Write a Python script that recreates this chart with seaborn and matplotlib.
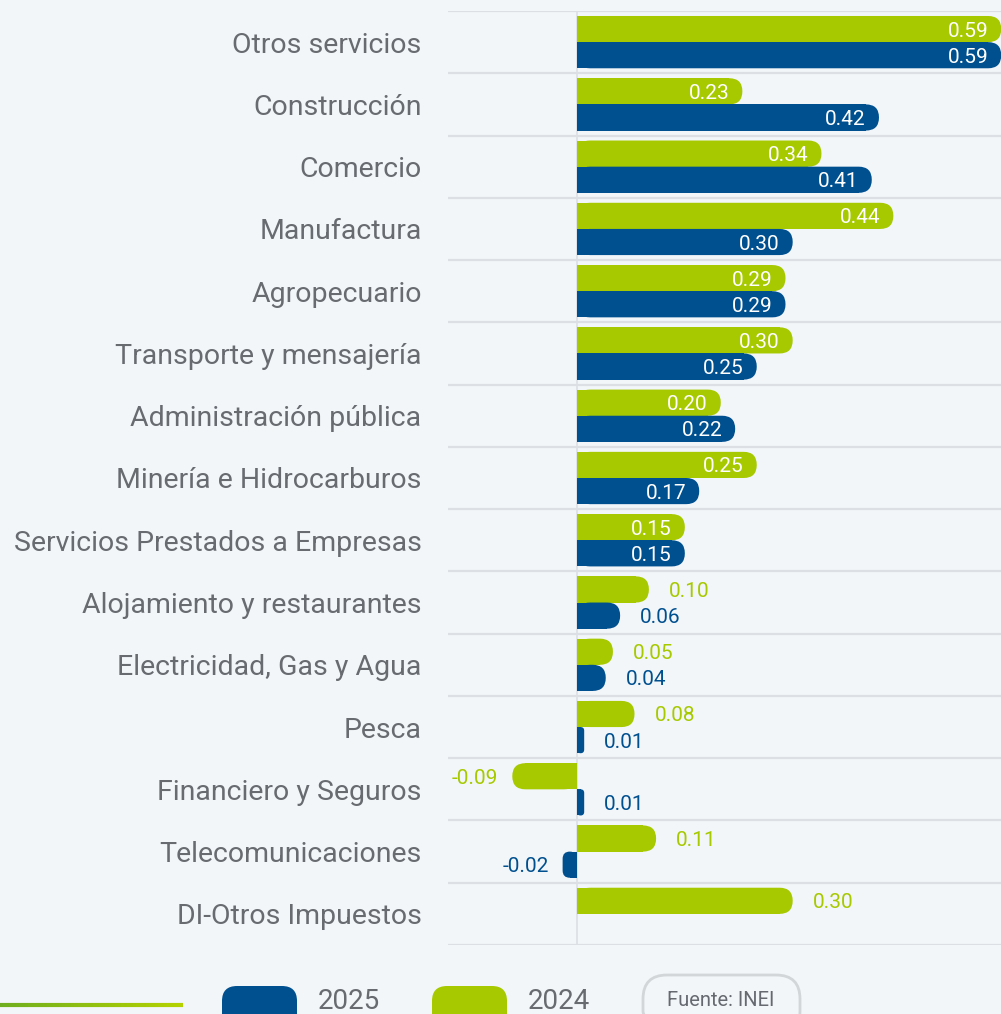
import numpy as np
import pandas as pd
import matplotlib
matplotlib.use("Agg")
import matplotlib.pyplot as plt
import seaborn as sns
from matplotlib.patches import FancyBboxPatch, Rectangle
from matplotlib.collections import LineCollection

# ---------------- data ----------------
categories = [
    "Otros servicios", "Construcción", "Comercio", "Manufactura", "Agropecuario",
    "Transporte y mensajería", "Administración pública", "Minería e Hidrocarburos",
    "Servicios Prestados a Empresas", "Alojamiento y restaurantes",
    "Electricidad, Gas y Agua", "Pesca", "Financiero y Seguros",
    "Telecomunicaciones", "DI-Otros Impuestos",
]
values_2024 = [0.59, 0.23, 0.34, 0.44, 0.29, 0.30, 0.20, 0.25, 0.15, 0.10, 0.05, 0.08, -0.09, 0.11, 0.30]
values_2025 = [0.59, 0.42, 0.41, 0.30, 0.29, 0.25, 0.22, 0.17, 0.15, 0.06, 0.04, 0.01, 0.01, -0.02, np.nan]
years = ["2024", "2025"]
legend_years = ["2025", "2024"]
outside_label_categories = categories[9:]
source_text = "Fuente: INEI"

# ---------------- style ----------------
BG = "#f3f6f9"
GREEN = "#a6c900"
BLUE = "#00508f"
GRID = "#dcdfe3"
TXT = "#686c71"
colors = {"2024": GREEN, "2025": BLUE}

sns.set_theme(style="white")
plt.rcParams['font.family'] = ['Roboto', 'DejaVu Sans']

W, H = 1001, 1014
fig = plt.figure(figsize=(W / 100, H / 100), dpi=100, facecolor=BG)
ax_left, ax_right, ax_top, ax_bot = 448, 1001, 11, 945
ax = fig.add_axes([ax_left / W, 1 - ax_bot / H, (ax_right - ax_left) / W, (ax_bot - ax_top) / H])
ax.set_facecolor(BG)

df = pd.DataFrame({
    "Sector": categories * 2,
    "Año": ["2024"] * len(categories) + ["2025"] * len(categories),
    "Valor": values_2024 + values_2025,
}).dropna()

sns.barplot(data=df, y="Sector", x="Valor", hue="Año", hue_order=years, order=categories,
            palette=colors, width=0.84, gap=0, orient="h", ax=ax, legend=False,
            saturation=1, errorbar=None)

zero_px = 577
px_per_x = 719.0
ax.set_xlim((ax_left - zero_px) / px_per_x, (ax_right - zero_px) / px_per_x)
n = len(categories)
ax.set_ylim(n - 0.5, -0.5)
px_per_y = (ax_bot - ax_top) / n
aspect = px_per_x / px_per_y

for k in range(n + 1):
    ax.axhline(k - 0.5, color=GRID, lw=1.6, zorder=0)
ax.axvline(0, color=GRID, lw=1.2, zorder=0.5)

# rounded bars
for ci, container in enumerate(ax.containers):
    year = years[ci]
    col = colors[year]
    for bar in container:
        x0, w, y0, h = bar.get_x(), bar.get_width(), bar.get_y(), bar.get_height()
        if not np.isfinite(w) or w == 0:
            continue
        bar.set_visible(False)
        left, right = min(x0, x0 + w), max(x0, x0 + w)
        width = right - left
        R = (h * px_per_y / 2) / px_per_x
        r = min(R, width / 2)
        ax.add_patch(FancyBboxPatch((left, y0), width, h,
                                    boxstyle=f"round,pad=0,rounding_size={r}",
                                    mutation_aspect=aspect, fc=col, ec="none", zorder=2))
        if w > 0:
            ax.add_patch(Rectangle((0, y0), max(width - r, 0), h, fc=col, ec="none", zorder=2))
        else:
            ax.add_patch(Rectangle((left + r, y0), max(width - r, 0), h, fc=col, ec="none", zorder=2))
        val = x0 + w
        cy = y0 + h / 2
        cat = categories[int(round(cy))]
        label = f"{val:.2f}"
        if cat in outside_label_categories:
            if val >= 0:
                ax.text(val + 20 / px_per_x, cy, label, ha="left", va="center_baseline",
                        color=col, fontsize=15, clip_on=False, zorder=3)
            else:
                ax.text(val - 14 / px_per_x, cy, label, ha="right", va="center_baseline",
                        color=col, fontsize=15, clip_on=False, zorder=3)
        else:
            ax.text(val - 13 / px_per_x, cy, label, ha="right", va="center_baseline",
                    color="white", fontsize=15, clip_on=False, zorder=3)

for s in ax.spines.values():
    s.set_visible(False)
ax.set_xlabel("")
ax.set_ylabel("")
ax.set_xticks([])
ax.tick_params(axis="y", length=0, pad=19, labelsize=20.5, labelcolor=TXT)

# ---------------- bottom legend (pixel overlay) ----------------
ov = fig.add_axes([0, 0, 1, 1], zorder=5)
ov.set_xlim(0, W)
ov.set_ylim(H, 0)
ov.axis("off")
ov.patch.set_alpha(0)

xs = np.linspace(0, 183, 60)
segs = [[(xs[i], 1005), (xs[i + 1], 1005)] for i in range(len(xs) - 1)]
cmap = matplotlib.colors.LinearSegmentedColormap.from_list("g", ["#6fae1e", "#b4d200"])
lc = LineCollection(segs, colors=cmap(np.linspace(0, 1, len(segs))), linewidths=3)
ov.add_collection(lc)

for xp, yr in zip([222, 432], legend_years):
    ov.add_patch(FancyBboxPatch((xp, 986), 75, 44, boxstyle="round,pad=0,rounding_size=15",
                                fc=colors[yr], ec="none"))
    ov.text(xp + 96, 988, yr, ha="left", va="top", fontsize=20, color=TXT)

ov.add_patch(FancyBboxPatch((643, 975), 157, 60, boxstyle="round,pad=0,rounding_size=24",
                            fc="none", ec="#d3d6d9", lw=2))
ov.text(721, 1000, source_text, ha="center", va="center", fontsize=14.5, color="#666a70")

fig.savefig("out.png", dpi=100, facecolor=BG)
